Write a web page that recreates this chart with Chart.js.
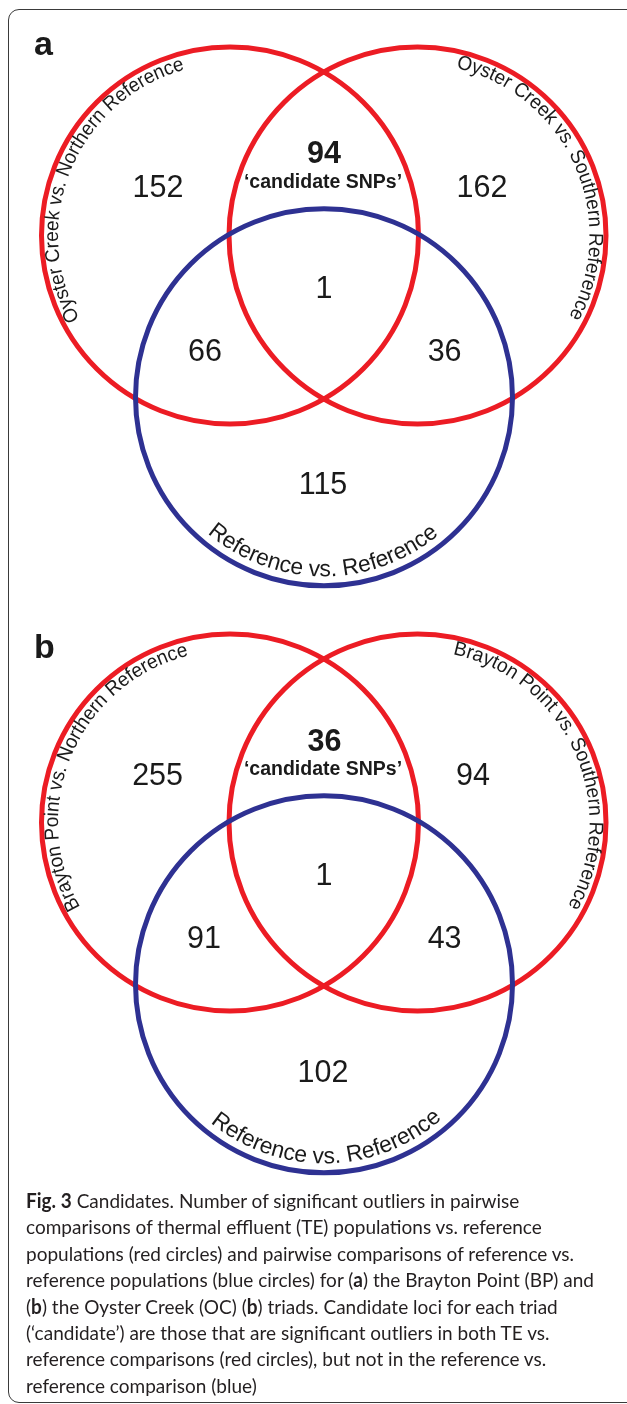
<!DOCTYPE html>
<html><head><meta charset="utf-8">
<script src="https://cdn.jsdelivr.net/npm/chart.js@4.4.1/dist/chart.umd.min.js"></script>
<style>
html,body{margin:0;padding:0;background:#fff;width:627px;height:1404px;overflow:hidden;position:relative;}
#frame{position:absolute;left:8px;top:9px;width:690px;height:1394px;border:1.5px solid #3a3a3a;border-radius:11px;box-sizing:border-box;}
#venn{position:absolute;left:0;top:0;}
#caption{position:absolute;left:26px;top:1187px;font-family:Lato,"Open Sans",sans-serif;font-size:20px;line-height:26.4px;color:#231f20;white-space:nowrap;transform-origin:0 0;}
#caption div{height:26.4px;}
#caption b{font-weight:700;}
</style></head><body>
<div id="frame"></div>
<canvas id="venn" width="627" height="1190"></canvas>
<div id="caption">
<div><span><b>Fig. 3</b> Candidates. Number of significant outliers in pairwise</span></div>
<div><span>comparisons of thermal effluent (TE) populations vs. reference</span></div>
<div><span>populations (red circles) and pairwise comparisons of reference vs.</span></div>
<div><span id="widest">reference populations (blue circles) for (<b>a</b>) the Brayton Point (BP) and</span></div>
<div><span>(<b>b</b>) the Oyster Creek (OC) (<b>b</b>) triads. Candidate loci for each triad</span></div>
<div><span>(‘candidate’) are those that are significant outliers in both TE vs.</span></div>
<div><span>reference comparisons (red circles), but not in the reference vs.</span></div>
<div><span>reference comparison (blue)</span></div>
</div>
<script>
// ---------------- DATA ----------------
const regionNames = ["TE vs. Northern only", "Candidate SNPs", "TE vs. Southern only", "All three", "Northern & Ref", "Southern & Ref", "Ref vs. Ref only"];
const countsA = [152, 94, 162, 1, 66, 36, 115];
const countsB = [255, 36, 94, 1, 91, 43, 102];
const setNamesA = ["Oyster Creek vs. Northern Reference", "Oyster Creek vs. Southern Reference", "Reference vs. Reference"];
const setNamesB = ["Brayton Point vs. Northern Reference", "Brayton Point vs. Southern Reference", "Reference vs. Reference"];
const panelLetters = ["a", "b"];
const candidateLabel = "‘candidate SNPs’";

// ---------------- LAYOUT (data units = pixels) ----------------
const W = 627, H = 1190;
const panelDY = [0, 587];
const circleGeom = [ {x:230, y:235.5, r:188.5}, {x:417.5, y:235.5, r:188.5}, {x:324, y:397.3, r:188.5} ];
const regionPos = [
  [[158,196.7],[324,163.3],[482,196.7],[324,298.3],[205,360.7],[444.6,360.7],[323,494]],
  [[157.6,198],[324.5,164.3],[473,198],[324,298],[204,361],[444.6,361],[323,494.5]]
];
const candidatePos = [[323,188.3],[323,188.3]];
const letterPos = [[34,55],[34,71]];
const arcs = [
  [ {c:0, r:172, mid:202.9, span:103.8, dir:1}, {c:1, r:172, mid:335.55, span:105.3, dir:1}, {c:2, r:179, mid:90.4, span:80.6, dir:-1} ],
  [ {c:0, r:172, mid:203.3, span:105.6, dir:1}, {c:1, r:172, mid:335.5, span:107.3, dir:1}, {c:2, r:179, mid:89.1, span:80.6, dir:-1} ]
];
const RED = '#ec1c24', BLUE = '#2e3192', INK = '#1a1a1a';

const counts = [countsA, countsB];
const setNames = [setNamesA, setNamesB];

function circlesFor(idxs){
  const out = [];
  panelDY.forEach(dy => idxs.forEach(i => out.push({x:circleGeom[i].x, y:circleGeom[i].y + dy, r:circleGeom[i].r})));
  return out;
}

function arcText(ctx, text, cx, cy, r, midDeg, spanDeg, dir, font){
  ctx.save();
  ctx.font = font;
  const chars = [...text];
  const widths = chars.map(ch => ctx.measureText(ch).width);
  const total = widths.reduce((a,b)=>a+b,0);
  const spanRad = spanDeg*Math.PI/180;
  const k = spanRad*r/total;
  let ang = midDeg*Math.PI/180 - dir*spanRad/2;
  ctx.textAlign = 'center';
  ctx.textBaseline = 'alphabetic';
  chars.forEach((ch,i)=>{
    const w = widths[i]*k;
    const a = ang + dir*(w/2)/r;
    ctx.save();
    ctx.translate(cx + r*Math.cos(a), cy + r*Math.sin(a));
    ctx.rotate(a + dir*Math.PI/2);
    ctx.scale(k,1);
    ctx.fillText(ch,0,0);
    ctx.restore();
    ang += dir*w/r;
  });
  ctx.restore();
}

const vennText = {
  id:'vennText',
  afterDatasetsDraw(chart){
    const ctx = chart.ctx, xs = chart.scales.x, ys = chart.scales.y;
    const X = v => xs.getPixelForValue(v), Y = v => ys.getPixelForValue(v);
    ctx.save();
    ctx.fillStyle = INK;
    panelDY.forEach((dy, p) => {
      ctx.font = 'bold 34px "Liberation Sans", Arial, sans-serif';
      ctx.textAlign = 'left'; ctx.textBaseline = 'alphabetic';
      ctx.fillText(panelLetters[p], X(letterPos[p][0]), Y(letterPos[p][1] + dy));
      counts[p].forEach((v, i) => {
        ctx.font = (i === 1 ? 'bold ' : '') + '30.5px "Liberation Sans", Arial, sans-serif';
        ctx.textAlign = 'center';
        ctx.fillText(String(v), X(regionPos[p][i][0]), Y(regionPos[p][i][1] + dy));
      });
      ctx.font = 'bold 19.5px "Liberation Sans", Arial, sans-serif';
      ctx.fillText(candidateLabel, X(candidatePos[p][0]), Y(candidatePos[p][1] + dy));
      arcs[p].forEach((a, j) => {
        const g = circleGeom[a.c];
        const fs = a.dir < 0 ? 23 : 20;
        arcText(ctx, setNames[p][j], X(g.x), Y(g.y + dy), a.r, a.mid, a.span, a.dir, fs + 'px "Liberation Sans", Arial, sans-serif');
      });
    });
    ctx.restore();
  }
};

new Chart(document.getElementById('venn'), {
  type: 'bubble',
  data: {
    datasets: [
      { label: 'Reference vs. Reference', data: circlesFor([2]), borderColor: BLUE, backgroundColor: 'rgba(0,0,0,0)', borderWidth: 5, clip: false },
      { label: 'TE vs. Reference', data: circlesFor([0,1]), borderColor: RED, backgroundColor: 'rgba(0,0,0,0)', borderWidth: 5, clip: false }
    ]
  },
  options: {
    responsive: false, animation: false, events: [],
    layout: { padding: 0, autoPadding: false },
    plugins: { legend: { display: false }, tooltip: { enabled: false } },
    scales: {
      x: { type: 'linear', min: 0, max: W, display: false },
      y: { type: 'linear', min: 0, max: H, reverse: true, display: false }
    }
  },
  plugins: [vennText]
});

function fitCaption(){
  const cap = document.getElementById('caption');
  cap.style.transform = 'none';
  const w = document.getElementById('widest').getBoundingClientRect().width;
  cap.style.transform = 'scaleX(' + (568 / w) + ')';
}
fitCaption();
if (document.fonts && document.fonts.ready) document.fonts.ready.then(fitCaption);
</script>
</body></html>
